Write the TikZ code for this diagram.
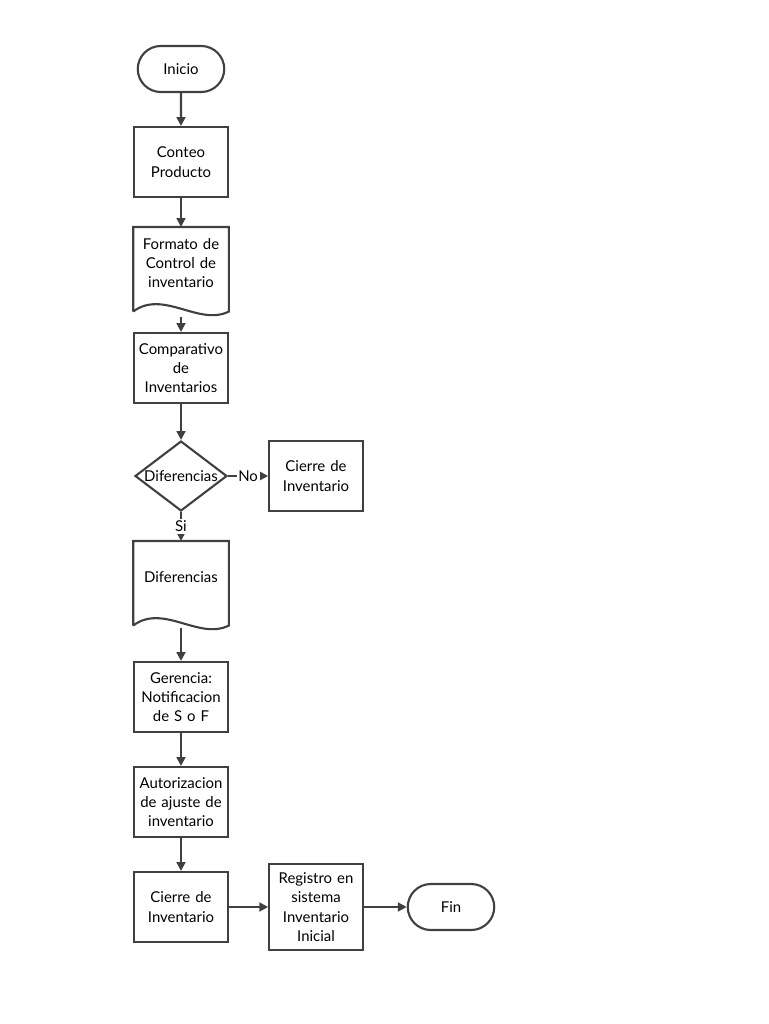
\documentclass[tikz,border=0pt]{standalone}
\usepackage{fontspec}
\setmainfont{Lato}
\usetikzlibrary{shapes.geometric,positioning,arrows.meta}
\tikzset{
  base/.style={draw=black!75,line width=1.2pt,align=center,font=\fontsize{8.5}{11}\selectfont,inner sep=1pt},
  proc/.style={base,rectangle,minimum width=1.8cm,minimum height=1.4cm,text width=1.8cm},
  term/.style={base,rounded rectangle,minimum width=1.8cm,minimum height=0.92cm},
  doc/.style={proc,draw=none},
  dec/.style={base,diamond,aspect=1.3,minimum width=1.84cm,minimum height=1.4cm,inner sep=0pt},
  flow/.style={draw=black!75,line width=1.2pt,-{Triangle[length=5pt,width=5pt]}},
}
\usetikzlibrary{shapes.misc}
% wavy bottom for document nodes
\newcommand{\docshape}[1]{%
  \draw[draw=black!75,line width=1.2pt] ([yshift=-0.25cm]#1.south west) -- (#1.north west) -- (#1.north east)
    -- ([yshift=-0.25cm]#1.south east)
    .. controls ([xshift=-0.6cm,yshift=-0.55cm]#1.south east) and ([xshift=0.6cm,yshift=0.2cm]#1.south west) .. ([yshift=-0.25cm]#1.south west);}
\begin{document}
\begin{tikzpicture}[x=0.02cm,y=-0.02cm]
\useasboundingbox (0,0) rectangle (768,1024);
\node[term] (inicio) at (181,69) {Inicio};
\node[proc] (conteo) at (181,162) {Conteo\\Producto};
\node[doc] (formato) at (181,263) {Formato de\\Control de\\inventario};
\docshape{formato}
\node[proc] (compar) at (181,368) {Comparativo\\de\\Inventarios};
\node[dec] (dif) at (181,476) {Diferencias};
\node[proc] (cierreA) at (316,476) {Cierre de\\Inventario};
\node[doc] (difdoc) at (181,577) {Diferencias};
\docshape{difdoc}
\node[proc] (gerencia) at (181,697) {Gerencia:\\Notificacion\\de S o F};
\node[proc] (autoriz) at (181,802) {Autorizacion\\de ajuste de\\inventario};
\node[proc] (cierreB) at (181,907) {Cierre de\\Inventario};
\node[proc,minimum height=1.72cm] (registro) at (316,907) {Registro en\\sistema\\Inventario\\Inicial};
\node[term] (fin) at (451,907) {Fin};

\draw[flow] (inicio) -- (conteo);
\draw[flow] (conteo) -- (formato);
\draw[flow] ([yshift=-0.35cm]formato.south) -- (compar);
\draw[flow] (compar) -- (dif);
\draw[flow] (dif) -- node[fill=white,inner sep=1pt,font=\fontsize{8.5}{10}\selectfont]{No} (cierreA);
\draw[flow] (dif) -- node[fill=white,inner sep=1pt,font=\fontsize{8.5}{10}\selectfont]{Si} (difdoc);
\draw[flow] ([yshift=-0.3cm]difdoc.south) -- (gerencia);
\draw[flow] (gerencia) -- (autoriz);
\draw[flow] (autoriz) -- (cierreB);
\draw[flow] (cierreB) -- (registro);
\draw[flow] (registro) -- (fin);
\end{tikzpicture}
\end{document}
